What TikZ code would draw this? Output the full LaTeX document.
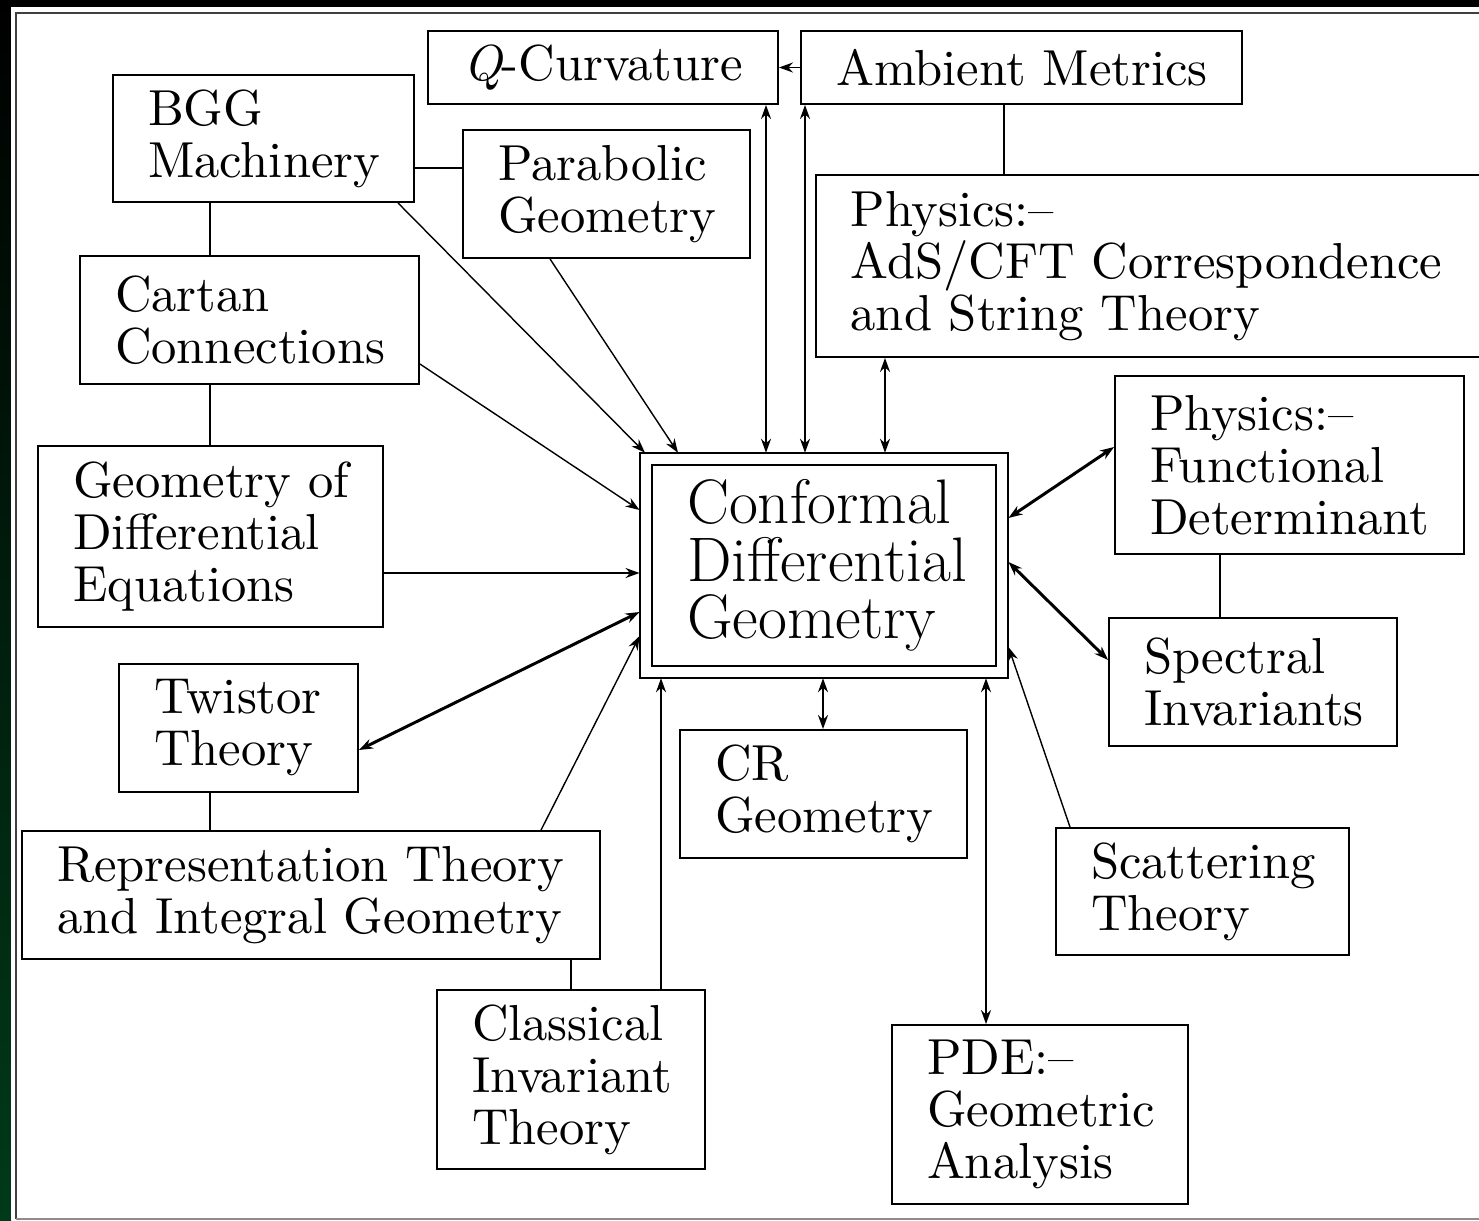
\documentclass[tikz,border=0pt]{standalone}
\usepackage{fontspec}
\usetikzlibrary{arrows.meta}
\newfontfamily\tenfont{lmroman10-regular.otf}[ItalicFont=lmroman10-italic.otf, Ligatures=TeX]
\definecolor{leftgreen}{RGB}{0,58,26}

\begin{document}
\begin{tikzpicture}[x=0.02cm,y=-0.02cm,
  >={Stealth[length=0.28cm,width=0.2cm]},
  box/.style={draw, line width=1.1pt, align=left, inner xsep=0.7cm, inner ysep=0pt,
    font=\tenfont\fontsize{28.8}{29.6}\selectfont,
    execute at begin node={\hyphenpenalty=10000\relax}},
  link/.style={line width=1pt},
  thinlink/.style={line width=0.8pt},
  thicklink/.style={line width=1.7pt}]
  \useasboundingbox (0,0) rectangle (1479,1220);
  % frame
  \fill[black] (0,0) rectangle (1479,1220);
  \shade[top color=black, bottom color=leftgreen] (0,0) rectangle (11,1220);
  \fill[white] (11,7) rectangle (1479,1220);
  \draw[line width=0.8pt, black!75] (16,1219) -- (16,13) -- (1490,13);
  \draw[line width=0.8pt, black!45] (16,1219) -- (1490,1219);

  % boxes
  \node[box, text width=5.6cm, minimum height=1.46cm] (qcurv) at (603,67.5) {{\itshape Q}-Curvature};
  \node[box, text width=7.42cm, minimum height=1.46cm] (ambient) at (1021.5,67.5) {\mbox{Ambient Metrics}};
  \node[box, text width=4.62cm, minimum height=2.54cm] (bgg) at (263.5,138.5) {BGG\\Machinery};
  \node[box, text width=4.34cm, minimum height=2.56cm] (parabolic) at (606.5,194) {Parabolic\\Geometry};
  \node[box, text width=11.9cm, minimum height=3.64cm] (ads) at (1148,266) {Physics:--\\AdS/CFT~Correspondence\\and~String~Theory};
  \node[box, text width=5.38cm, minimum height=2.56cm] (cartan) at (249.5,320) {Cartan\\Connections};
  \node[box, text width=5.5cm, minimum height=3.62cm] (geomde) at (210.5,536.5) {Geometry~of\\Differential\\Equations};
  \node[box, double, double distance=0.2cm, outer sep=0.13cm, inner xsep=0.82cm,
    text width=5.48cm, minimum height=4.25cm,
    font=\normalfont\fontsize{35.8}{32.7}\selectfont] (cdg) at (824,565.5) {Conformal\\Differential\\Geometry};
  \node[box, text width=5.58cm, minimum height=3.56cm] (funcdet) at (1289.5,465) {Physics:--\\Functional\\Determinant};
  \node[box, text width=4.36cm, minimum height=2.56cm] (spectral) at (1253,682) {Spectral\\Invariants};
  \node[box, text width=3.38cm, minimum height=2.56cm] (twistor) at (238.5,728) {Twistor\\Theory};
  \node[box, text width=4.34cm, minimum height=2.56cm] (cr) at (823.5,794) {CR\\Geometry};
  \node[box, text width=10.16cm, minimum height=2.56cm] (rep) at (311,895) {Representation~Theory\\and~Integral~Geometry};
  \node[box, text width=4.46cm, minimum height=2.54cm] (scatter) at (1202.5,891.5) {Scattering\\Theory};
  \node[box, text width=3.96cm, minimum height=3.58cm] (classical) at (571,1079.5) {Classical\\Invariant\\Theory};
  \node[box, text width=4.52cm, minimum height=3.58cm] (pde) at (1040,1114.5) {PDE:--\\Geometric\\Analysis};

  % plain links
  \draw[->, link] (ambient.west) -- (qcurv.east);
  \draw[link] (1004,0 |- ambient.south) -- (1004,0 |- ads.north);
  \draw[link] (bgg.east |- 0,168) -- (parabolic.west |- 0,168);
  \draw[link] (210,0 |- bgg.south) -- (210,0 |- cartan.north);
  \draw[link] (210,0 |- cartan.south) -- (210,0 |- geomde.north);
  \draw[link] (210,0 |- twistor.south) -- (210,0 |- rep.north);
  \draw[link] (classical.north |- rep.south) -- (classical.north);
  \draw[link] (1220,0 |- funcdet.south) -- (1220,0 |- spectral.north);

  % arrows into the centre
  \draw[->, thinlink] (398,0 |- bgg.south) -- (645,0 |- cdg.north);
  \draw[->, thinlink] (550,0 |- parabolic.south) -- (678,0 |- cdg.north);
  \draw[->, thinlink] (cartan.east |- 0,364) -- (cdg.west |- 0,510);
  \draw[->, link] (geomde.east |- 0,573) -- (cdg.west |- 0,573);
  \draw[<->, thicklink] (twistor.east |- 0,750) -- (cdg.west |- 0,612);
  \draw[->, thinlink] (541,0 |- rep.north) -- (cdg.west |- 0,636);
  \draw[->, link] (661,0 |- classical.north) -- (661,0 |- cdg.south);
  \draw[<->, link] (766,0 |- qcurv.south) -- (766,0 |- cdg.north);
  \draw[<->, link] (805,0 |- ambient.south) -- (805,0 |- cdg.north);
  \draw[<->, link] (885,0 |- ads.south) -- (885,0 |- cdg.north);
  \draw[<->, thicklink] (cdg.east |- 0,518) -- (funcdet.west |- 0,447);
  \draw[<->, thicklink] (cdg.east |- 0,562) -- (spectral.west |- 0,660);
  \draw[->, thinlink] (1070,0 |- scatter.north) -- (cdg.east |- 0,647);
  \draw[<->, link] (823,0 |- cdg.south) -- (823,0 |- cr.north);
  \draw[<->, link] (986,0 |- cdg.south) -- (986,0 |- pde.north);
\end{tikzpicture}
\end{document}
